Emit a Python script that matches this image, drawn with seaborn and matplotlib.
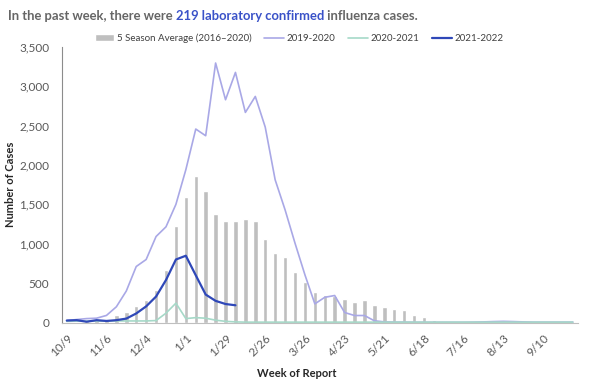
import matplotlib
matplotlib.use('Agg')
import matplotlib.pyplot as plt
import seaborn as sns
import pandas as pd

# week labels shown on the x axis (every 4th week)
tick_labels = ['10/9', '11/6', '12/4', '1/1', '1/29', '2/26', '3/26',
               '4/23', '5/21', '6/18', '7/16', '8/13', '9/10']

# 5 season average (2016-2020), one value per week
avg_5 = [10, 12, 18, 28, 47, 92, 134, 212, 288, 415, 670, 1220, 1592, 1863,
         1672, 1380, 1292, 1292, 1317, 1292, 1054, 881, 826, 644, 517, 390,
         352, 343, 297, 263, 280, 225, 195, 170, 161, 98, 72, 34, 20, 12, 10,
         8, 8, 7, 7, 6, 6, 6, 5, 5, 5, 5]

season_1920 = [25, 38, 50, 55, 90, 200, 400, 711, 800, 1092, 1215, 1500,
               1940, 2456, 2371, 3294, 2828, 3175, 2667, 2870, 2481, 1812,
               1431, 1008, 606, 237, 320, 343, 127, 89, 89, 22, 8, 5, 5, 3,
               3, 3, 3, 3, 3, 5, 8, 12, 15, 12, 8, 5, 5, 5, 5, 5]

season_2021 = [15, 18, 18, 18, 18, 20, 20, 20, 20, 25, 119, 246, 50, 62, 55,
               30, 15, 8, 5, 5, 5, 5, 5, 5, 5, 5, 5, 5, 5, 5, 5, 5, 5, 5, 5,
               5, 5, 5, 5, 5, 5, 5, 5, 5, 5, 5, 5, 5, 5, 5, 5, 5]

season_2122 = [25, 30, 10, 30, 20, 30, 50, 115, 205, 330, 540, 800, 848, 600,
               355, 275, 235, 219]

sns.set_style('white')
plt.rcParams['font.family'] = ['Lato', 'DejaVu Sans']

weeks = list(range(len(avg_5)))
df = pd.DataFrame({'week': weeks, 'avg': avg_5,
                   's1920': season_1920, 's2021': season_2021})
df_cur = pd.DataFrame({'week': weeks[:len(season_2122)], 'cases': season_2122})

fig = plt.figure(figsize=(6, 3.9), dpi=100)
ax = fig.add_axes([0.103, 0.173, 0.860, 0.707])

sns.barplot(data=df, x='week', y='avg', native_scale=True, width=0.45,
            color='#bfbfbf', saturation=1, ax=ax,
            label='5 Season Average (2016\u20132020)')
sns.lineplot(data=df, x='week', y='s1920', color='#a9a8e6', linewidth=1.2,
             ax=ax, label='2019-2020')
sns.lineplot(data=df, x='week', y='s2021', color='#a6d9c8', linewidth=1.2,
             ax=ax, label='2020-2021')
sns.lineplot(data=df_cur, x='week', y='cases', color='#2f48b8', linewidth=1.6,
             ax=ax, label='2021-2022')

ax.set_xlim(-0.5, 51.5)
ax.set_ylim(0, 3500)
ax.set_yticks(range(0, 3501, 500))
ax.set_yticklabels([f'{v:,}' for v in range(0, 3501, 500)])
ax.set_xticks(weeks[::4])
ax.set_xticklabels(tick_labels, rotation=45, ha='right', rotation_mode='anchor')
ax.tick_params(axis='both', length=0, labelsize=8.5, colors='#595959')
ax.tick_params(axis='y', pad=9)
ax.tick_params(axis='x', pad=7)

for s in ['top', 'right']:
    ax.spines[s].set_visible(False)
ax.spines['left'].set_color('#8c8c8c')
ax.spines['bottom'].set_color('#bfbfbf')

ax.set_xlabel('Week of Report', fontsize=8, fontweight='bold')
ax.xaxis.set_label_coords(0.455, -0.165)
ax.set_ylabel('Number of Cases', fontsize=8, fontweight='bold')
ax.yaxis.set_label_coords(-0.088, 0.5)

handles, labels = ax.get_legend_handles_labels()
order = [labels.index(l) for l in ['5 Season Average (2016\u20132020)',
                                   '2019-2020', '2020-2021', '2021-2022']]
ax.legend([handles[i] for i in order], [labels[i] for i in order],
          loc='upper center', bbox_to_anchor=(0.46, 1.08), ncol=4,
          frameon=False, fontsize=7, handlelength=2.0, columnspacing=1.3,
          handletextpad=0.3, labelcolor='#404040')

# title in three colour pieces
r = fig.canvas.get_renderer()
x = 8 / 600
pieces = [('In the past week, there were ', '#666666'),
          ('219 laboratory confirmed', '#3a52c8'),
          (' influenza cases.', '#666666')]
for txt, col in pieces:
    t = fig.text(x, 1 - 16 / 390, txt, fontsize=9.4, fontweight='bold',
                 color=col, va='center', ha='left')
    bb = t.get_window_extent(renderer=r)
    x = (bb.x1) / fig.bbox.width

fig.savefig('out.png', dpi=100)
